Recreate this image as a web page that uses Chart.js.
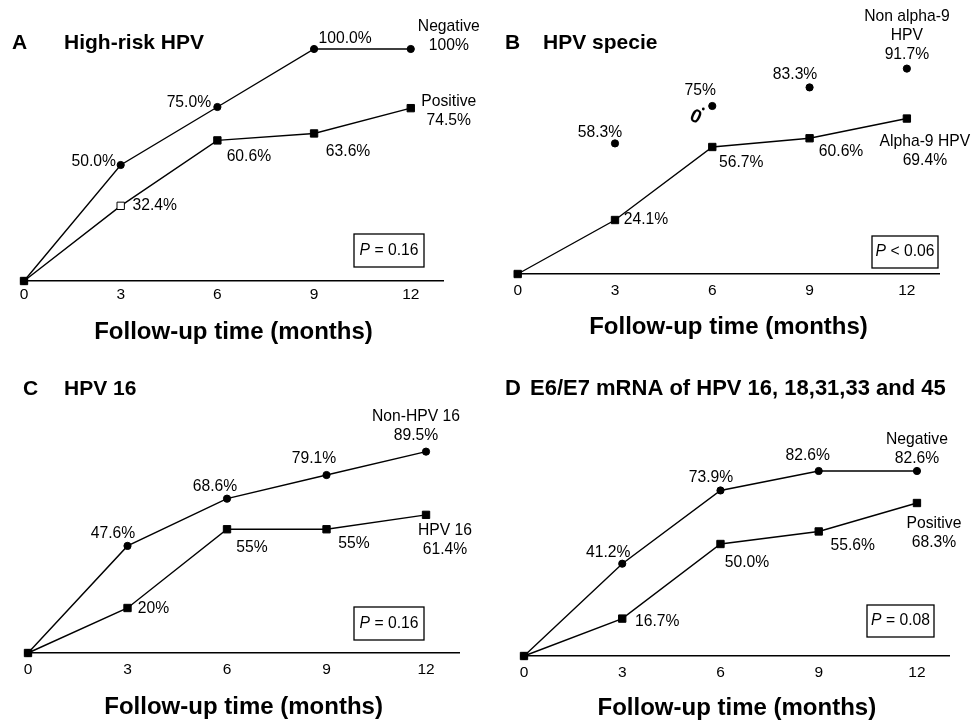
<!DOCTYPE html>
<html>
<head>
<meta charset="utf-8">
<script src="https://cdn.jsdelivr.net/npm/chart.js@4.4.1/dist/chart.umd.min.js"></script>
<style>
  html, body { margin: 0; padding: 0; background: #fff; }
  body { width: 973px; height: 720px; position: relative; overflow: hidden; }
  canvas { position: absolute; }
</style>
</head>
<body>
<canvas id="cA" width="480" height="360" style="left:0;top:0;width:480px;height:360px"></canvas>
<canvas id="cB" width="493" height="360" style="left:480px;top:0;width:493px;height:360px"></canvas>
<canvas id="cC" width="480" height="360" style="left:0;top:360px;width:480px;height:360px"></canvas>
<canvas id="cD" width="493" height="360" style="left:480px;top:360px;width:493px;height:360px"></canvas>
<script>
// ---------------- DATA ----------------
const MONTHS = [0, 3, 6, 9, 12];
const TICK_LABELS = ['0', '3', '6', '9', '12'];
const X_TITLE = 'Follow-up time (months)';

// A  High-risk HPV
const A_NEG = [0, 50.0, 75.0, 100.0, 100.0];
const A_POS = [0, 32.4, 60.6, 63.6, 74.5];
const A_NEG_TEXT = ['', '50.0%', '75.0%', '100.0%', 'Negative\n100%'];
const A_POS_TEXT = ['', '32.4%', '60.6%', '63.6%', 'Positive\n74.5%'];

// B  HPV specie
const B_NONA9 = [null, 58.3, 75, 83.3, 91.7];
const B_A9 = [0, 24.1, 56.7, 60.6, 69.4];
const B_NONA9_TEXT = ['', '58.3%', '75%', '83.3%', 'Non alpha-9\nHPV\n91.7%'];
const B_A9_TEXT = ['', '24.1%', '56.7%', '60.6%', 'Alpha-9 HPV\n69.4%'];

// C  HPV 16
const C_NON16 = [0, 47.6, 68.6, 79.1, 89.5];
const C_16 = [0, 20, 55, 55, 61.4];
const C_NON16_TEXT = ['', '47.6%', '68.6%', '79.1%', 'Non-HPV 16\n89.5%'];
const C_16_TEXT = ['', '20%', '55%', '55%', 'HPV 16\n61.4%'];

// D  E6/E7 mRNA
const D_NEG = [0, 41.2, 73.9, 82.6, 82.6];
const D_POS = [0, 16.7, 50.0, 55.6, 68.3];
const D_NEG_TEXT = ['', '41.2%', '73.9%', '82.6%', 'Negative\n82.6%'];
const D_POS_TEXT = ['', '16.7%', '50.0%', '55.6%', 'Positive\n68.3%'];

const P_TEXTS = [' = 0.16', ' < 0.06', ' = 0.16', ' = 0.08'];

// ---------------- LAYOUT / STYLE ----------------
const FONT = "'Liberation Sans', Arial, Helvetica, sans-serif";
const LABEL_SIZE = 15.7;
const TICK_SIZE = 15.5;
const XT_SIZE = 24;
const LINE = 18.7;

const PANELS = [
  { id: 'cA', w: 480, h: 360, padL: 24, padR: 37, padT: 49, axisY: 281, tickC: 295, titleC: 332,
    titleSize: 21,
    letter: { text: 'A', x: 12, y: 43 }, title: { text: 'High-risk HPV', x: 64, y: 43 },
    pbox: { x: 354, y: 234, w: 70, h: 33, text: P_TEXTS[0] },
    series: [
      { values: A_POS, texts: A_POS_TEXT, style: 'rect', line: true, hollow: [false, true, false, false, false],
        offs: [null, [34, 0], [31.5, 16.6], [34, 18.6], [38, -6]] },
      { values: A_NEG, texts: A_NEG_TEXT, style: 'circle', line: true,
        offs: [null, [-27, -3], [-28.5, -4], [31, -10], [38, -22]] }
    ] },
  { id: 'cB', w: 493, h: 360, padL: 37.7, padR: 33.7, padT: 50, axisY: 274, tickC: 290.5, titleC: 327,
    titleSize: 21,
    letter: { text: 'B', x: 25, y: 43 }, title: { text: 'HPV specie', x: 63, y: 43 },
    pbox: { x: 392, y: 236, w: 66, h: 32, text: P_TEXTS[1] },
    glyph: { text: '0', x: 215.5, y: 117, rot: 0.45, dotX: 223.3, dotY: 109 },
    series: [
      { values: B_A9, texts: B_A9_TEXT, style: 'rect', line: true,
        offs: [null, [31, 0], [29, 16], [31.5, 13], [18, 23.5]] },
      { values: B_NONA9, texts: B_NONA9_TEXT, style: 'circle', line: false,
        offs: [null, [-15, -11], [-12, -15], [-14.5, -13], [0, -51.6]] }
    ] },
  { id: 'cC', w: 480, h: 360, padL: 28, padR: 20.8, padT: 68, axisY: 293, tickC: 310, titleC: 347,
    titleSize: 21,
    letter: { text: 'C', x: 23, y: 29.3 }, title: { text: 'HPV 16', x: 64, y: 29.3 },
    pbox: { x: 354, y: 247, w: 70, h: 33, text: P_TEXTS[2] },
    series: [
      { values: C_16, texts: C_16_TEXT, style: 'rect', line: true,
        offs: [null, [26, 1], [25, 18.7], [27.5, 14.7], [19, 16]] },
      { values: C_NON16, texts: C_NON16_TEXT, style: 'circle', line: true,
        offs: [null, [-14.5, -12], [-12, -11.7], [-12.5, -16], [-10, -34.6]] }
    ] },
  { id: 'cD', w: 493, h: 360, padL: 44, padR: 23.3, padT: 72, axisY: 296, tickC: 313, titleC: 348,
    titleSize: 22,
    letter: { text: 'D', x: 25, y: 29.3 }, title: { text: 'E6/E7 mRNA of HPV 16, 18,31,33 and 45', x: 50, y: 29.3 },
    pbox: { x: 387, y: 245, w: 67, h: 32, text: P_TEXTS[3] },
    series: [
      { values: D_POS, texts: D_POS_TEXT, style: 'rect', line: true,
        offs: [null, [35, 3.4], [26.5, 19], [34, 14.5], [17, 21]] },
      { values: D_NEG, texts: D_NEG_TEXT, style: 'circle', line: true,
        offs: [null, [-14, -10.7], [-9.5, -12.5], [-11, -15], [0, -31]] }
    ] }
];

function makeAnnot(panel) {
  return {
    id: 'annot_' + panel.id,
    afterDatasetsDraw(chart) {
      const ctx = chart.ctx, xs = chart.scales.x, ys = chart.scales.y;
      ctx.save();
      ctx.fillStyle = '#000';
      ctx.textBaseline = 'middle';
      // panel title
      ctx.font = 'bold ' + panel.titleSize + 'px ' + FONT;
      ctx.textAlign = 'left';
      ctx.fillText(panel.letter.text, panel.letter.x, panel.letter.y);
      ctx.fillText(panel.title.text, panel.title.x, panel.title.y);
      // value labels
      ctx.font = LABEL_SIZE + 'px ' + FONT;
      ctx.textAlign = 'center';
      panel.series.forEach(s => {
        s.texts.forEach((t, i) => {
          if (!t || s.values[i] === null) return;
          const px = xs.getPixelForValue(MONTHS[i]);
          const py = ys.getPixelForValue(s.values[i]);
          const o = s.offs[i];
          t.split('\n').forEach((ln, k) => ctx.fillText(ln, px + o[0], py + o[1] + k * LINE));
        });
      });
      // P box
      const b = panel.pbox;
      ctx.lineWidth = 1.3;
      ctx.strokeStyle = '#000';
      ctx.strokeRect(b.x, b.y, b.w, b.h);
      ctx.font = 'italic 15.7px ' + FONT;
      const wP = ctx.measureText('P').width;
      ctx.font = '15.7px ' + FONT;
      const wR = ctx.measureText(b.text).width;
      const sx = b.x + (b.w - wP - wR) / 2;
      ctx.textAlign = 'left';
      ctx.font = 'italic 15.7px ' + FONT;
      ctx.fillText('P', sx, b.y + b.h / 2);
      ctx.font = '15.7px ' + FONT;
      ctx.fillText(b.text, sx + wP, b.y + b.h / 2);
      // stray glyph in panel B
      if (panel.glyph) {
        const g = panel.glyph;
        ctx.save();
        ctx.translate(g.x, g.y);
        ctx.rotate(g.rot);
        ctx.font = 'bold 19px ' + FONT;
        ctx.textAlign = 'center';
        ctx.fillText(g.text, 0, 0);
        ctx.restore();
        ctx.beginPath();
        ctx.arc(g.dotX, g.dotY, 1.4, 0, Math.PI * 2);
        ctx.fill();
      }
      ctx.restore();
    }
  };
}

function build(panel) {
  const tickLH = TICK_SIZE * 1.2;
  const titleLH = XT_SIZE;
  const p = panel.tickC - panel.axisY - tickLH / 2;
  const tpt = panel.titleC - panel.axisY - tickLH - 2 * p - titleLH / 2;
  const scaleBottom = panel.axisY + tickLH + 2 * p + titleLH + tpt;
  const padB = Math.max(0, panel.h - scaleBottom);

  const datasets = panel.series.map(s => {
    const pts = [];
    const bg = [];
    MONTHS.forEach((m, i) => {
      if (s.values[i] === null) return;
      pts.push({ x: m, y: s.values[i] });
      bg.push(s.hollow && s.hollow[i] ? '#fff' : '#000');
    });
    return {
      data: pts,
      showLine: s.line,
      borderColor: '#000',
      borderWidth: 1.4,
      pointStyle: s.style,
      pointRadius: s.style === 'rect' ? 5.2 : 3.6,
      pointBackgroundColor: bg,
      pointBorderColor: '#000',
      pointBorderWidth: 1,
      tension: 0,
      clip: false
    };
  });

  new Chart(document.getElementById(panel.id), {
    type: 'scatter',
    data: { datasets },
    options: {
      responsive: false,
      animation: false,
      devicePixelRatio: 1,
      events: [],
      layout: { padding: { left: panel.padL, right: panel.padR, top: panel.padT, bottom: padB } },
      plugins: { legend: { display: false }, tooltip: { enabled: false }, title: { display: false } },
      scales: {
        x: {
          type: 'linear', min: 0, max: 13,
          afterBuildTicks: sc => { sc.ticks = MONTHS.map(v => ({ value: v })); },
          ticks: {
            autoSkip: false, maxRotation: 0, padding: p, color: '#000',
            font: { family: FONT, size: TICK_SIZE },
            callback: v => TICK_LABELS[MONTHS.indexOf(v)]
          },
          grid: { display: false, drawTicks: false },
          border: { display: true, color: '#000', width: 1.4 },
          title: {
            display: true, text: X_TITLE, color: '#000',
            font: { family: FONT, size: XT_SIZE, weight: 'bold', lineHeight: 1 },
            padding: { top: tpt, bottom: 0 }
          }
        },
        y: { type: 'linear', display: false, min: 0, max: 100 }
      }
    },
    plugins: [makeAnnot(panel)]
  });
}

PANELS.forEach(build);
</script>
</body>
</html>
